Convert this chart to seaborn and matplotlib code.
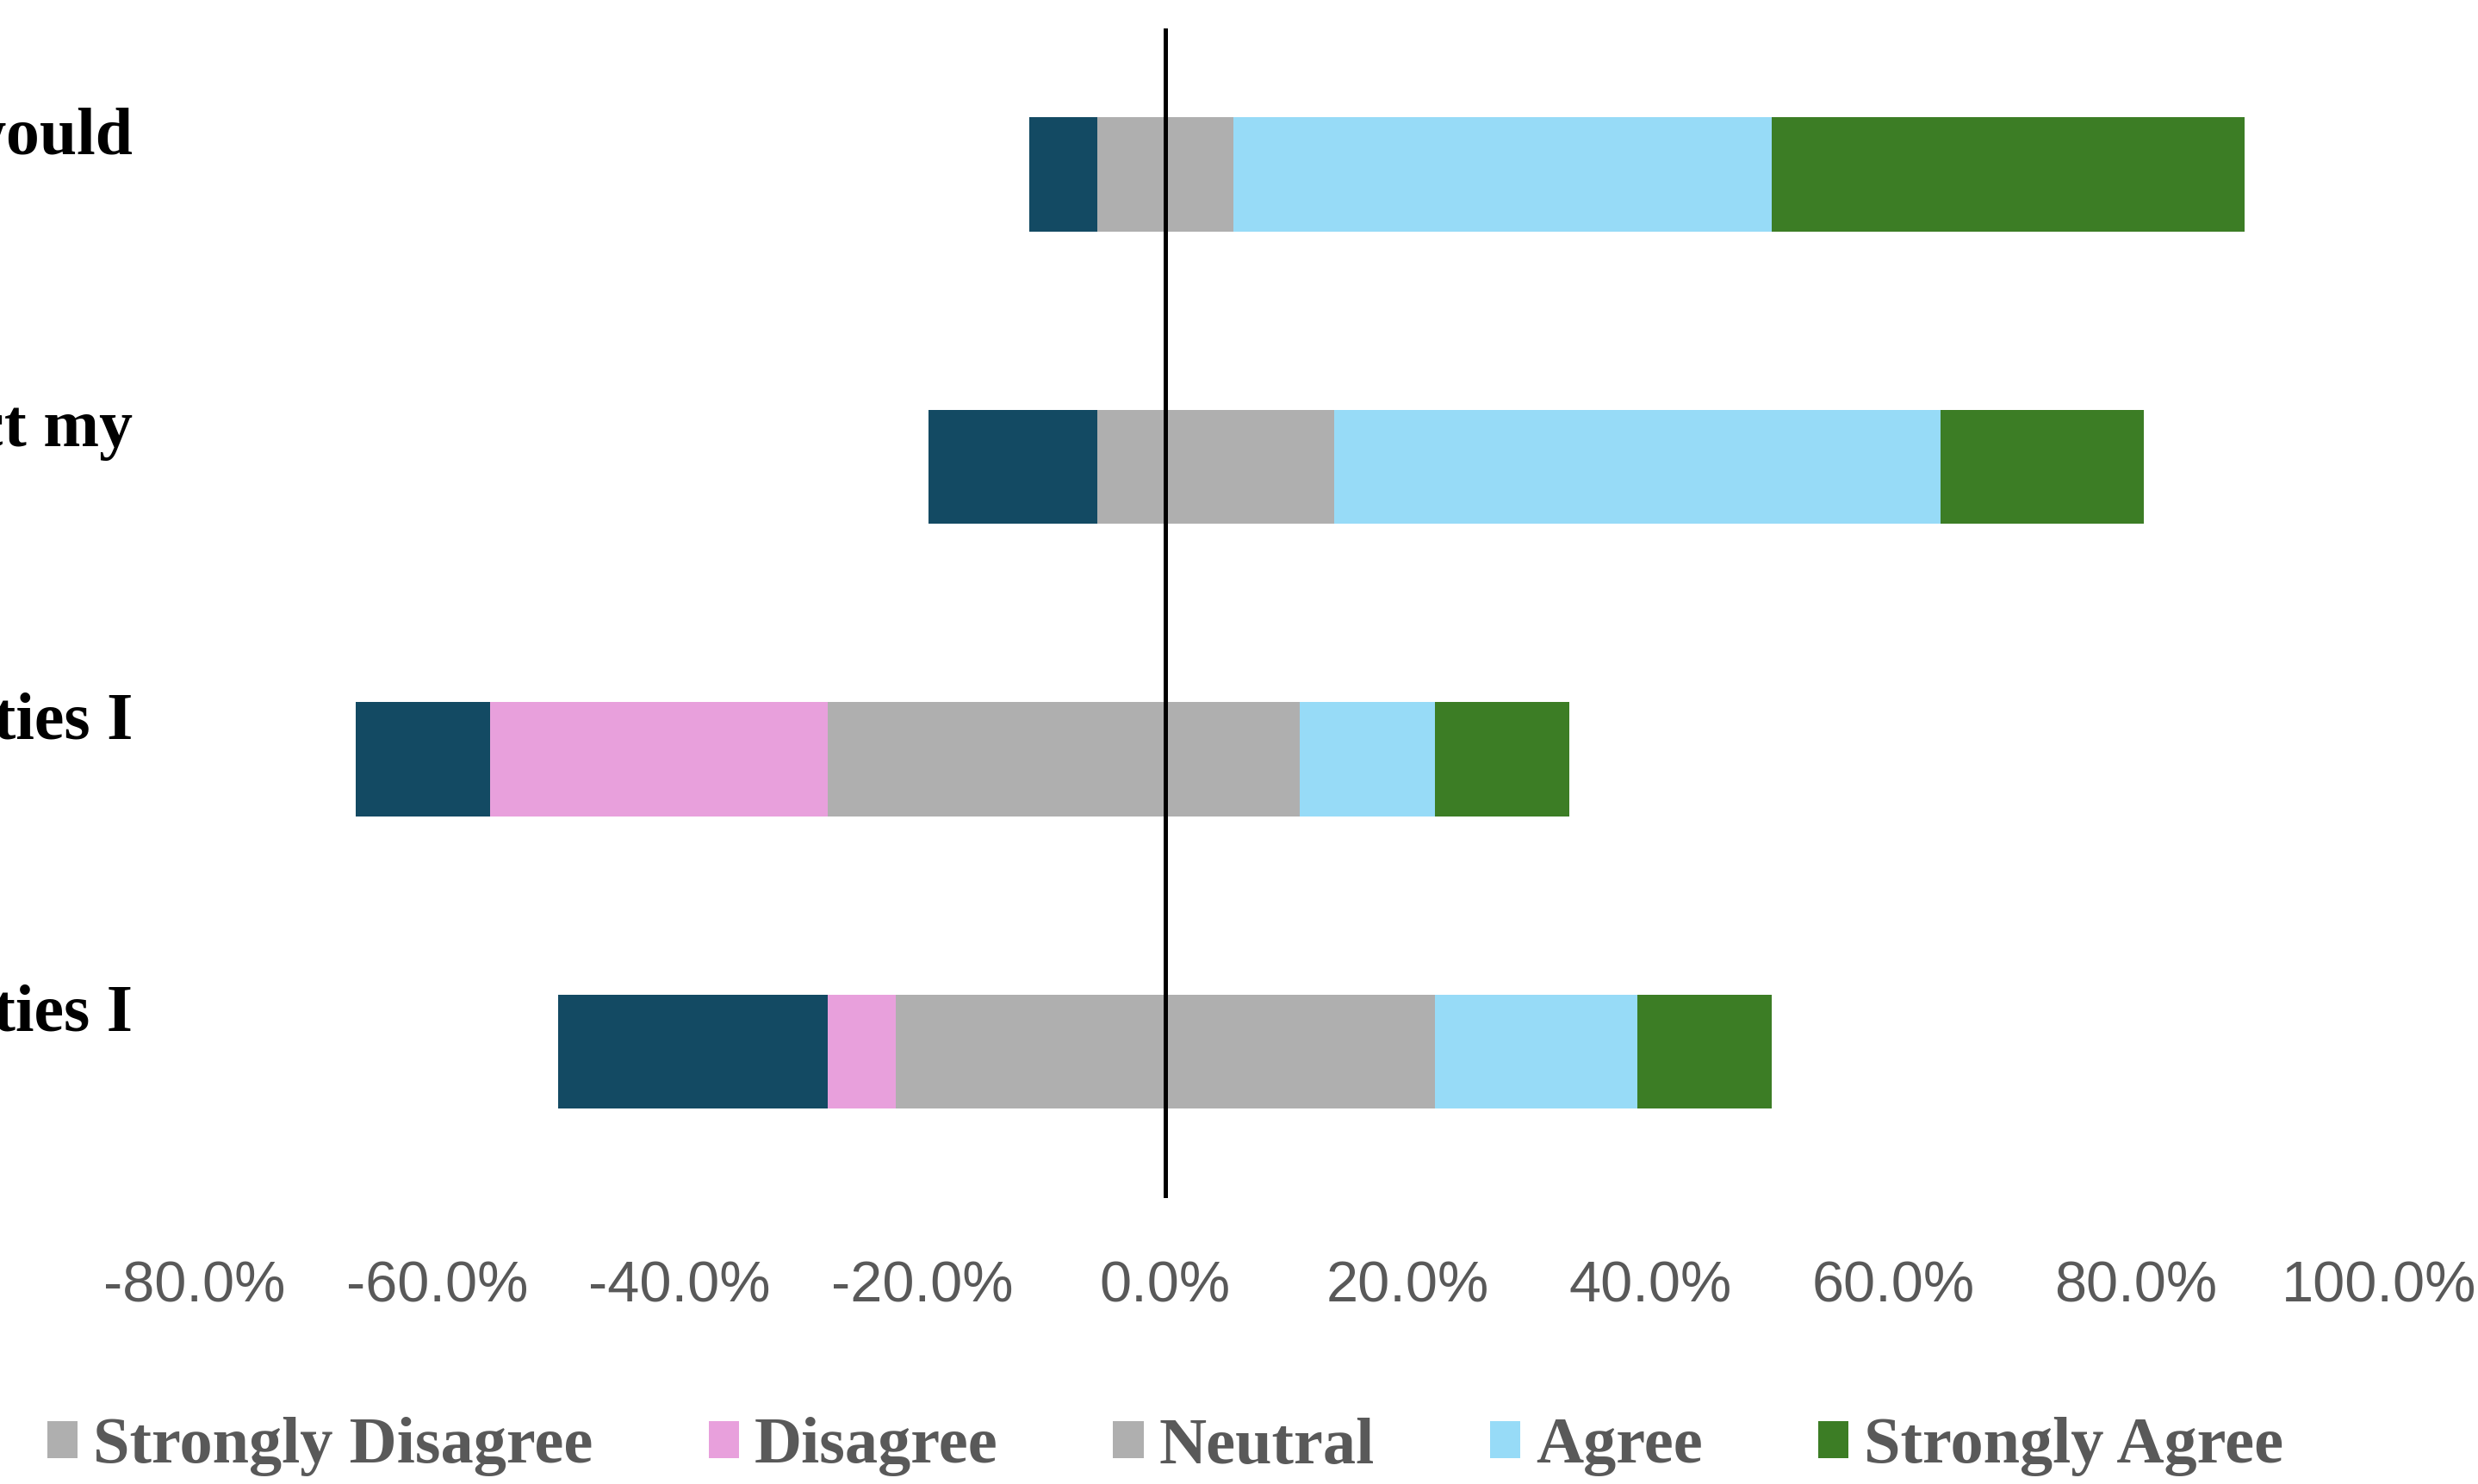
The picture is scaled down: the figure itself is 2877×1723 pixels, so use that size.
import numpy as np
import pandas as pd
import seaborn as sns
import matplotlib
matplotlib.use("Agg")
import matplotlib.pyplot as plt
from matplotlib import font_manager, transforms
from matplotlib.patches import Patch

# Survey statements (right-hand ends of the labels)
statements = ["I would", "affect my", "activities I", "opportunities I"]

# Share of responses per statement (%); neutral split into its left and right parts
strongly_disagree = [5.6, 13.9, 11.1, 22.2]
disagree = [0.0, 0.0, 27.8, 5.6]
neutral_left = [5.6, 5.6, 27.8, 22.2]
neutral_right = [5.6, 13.9, 11.1, 22.2]
agree = [44.4, 50.0, 11.1, 16.7]
strongly_agree = [38.9, 16.7, 11.1, 11.1]

legend_labels = ["Strongly Disagree", "Disagree", "Neutral", "Agree", "Strongly Agree"]
x_ticks = [-80, -60, -40, -20, 0, 20, 40, 60, 80, 100]

c_sd = "#134a63"
c_d = "#e8a0dc"
c_n = "#afafaf"
c_a = "#97dbf7"
c_sa = "#3c7d25"
legend_colors = ["#afafaf", c_d, c_n, c_a, c_sa]

sns.set_theme(style="white")
plt.rcParams["font.family"] = ["Liberation Serif", "DejaVu Serif"]

available = {f.name for f in font_manager.fontManager.ttflist}
if "Liberation Sans Narrow" in available:
    tick_family, tick_size = "Liberation Sans Narrow", 56
else:
    tick_family, tick_size = "Liberation Sans", 48

df = pd.DataFrame({
    "statement": statements,
    "sd": strongly_disagree, "d": disagree, "nl": neutral_left,
    "nr": neutral_right, "a": agree, "sa": strongly_agree,
})
# cumulative extents, drawn longest first so shorter bars sit on top
df["left_all"] = -(df["nl"] + df["d"] + df["sd"])
df["left_d"] = -(df["nl"] + df["d"])
df["left_n"] = -df["nl"]
df["right_all"] = df["nr"] + df["a"] + df["sa"]
df["right_a"] = df["nr"] + df["a"]
df["right_n"] = df["nr"]

fig = plt.figure(figsize=(28.77, 17.23), dpi=100)
ax = fig.add_axes([0.0784, 0.1927, 0.8816, 0.7882])

bar_w = 0.39
for col, color in [("left_all", c_sd), ("left_d", c_d), ("left_n", c_n),
                   ("right_all", c_sa), ("right_a", c_a), ("right_n", c_n)]:
    sns.barplot(data=df, x=col, y="statement", order=statements, orient="h",
                color=color, saturation=1, width=bar_w, linewidth=0,
                errorbar=None, ax=ax)

ax.axvline(0, color="black", linewidth=3.6, zorder=5)

ax.set_xlim(-80, 100)
ax.set_ylim(3.5, -0.5)
ax.set_xticks(x_ticks)
ax.set_xticklabels([f"{v:.1f}%" for v in x_ticks], family=tick_family,
                   fontsize=tick_size, color="#595959")
ax.tick_params(axis="x", length=0, pad=52)
ax.set_yticks([])
ax.set_xlabel("")
ax.set_ylabel("")
for s in ax.spines.values():
    s.set_visible(False)

# statement labels, right-aligned near the left edge of the figure
trans = transforms.blended_transform_factory(fig.transFigure, ax.transData)
for i, label in enumerate(statements):
    ax.text(0.0535, i - 0.07, label, transform=trans, ha="right", va="baseline",
            fontsize=56, fontweight="bold", color="black",
            family=["Liberation Serif", "DejaVu Serif"], clip_on=False)

handles = [Patch(facecolor=c, edgecolor="none") for c in legend_colors]
fig.legend(handles, legend_labels, loc="center left",
           bbox_to_anchor=(55 / 2877, 43 / 1723), ncol=5, frameon=False,
           prop={"family": "Liberation Serif", "weight": "bold", "size": 55},
           labelcolor="#595959", handlelength=0.46, handleheight=0.5,
           handletextpad=0.24, columnspacing=1.75, borderpad=0, borderaxespad=0)

fig.savefig("out.png", dpi=100, facecolor="white")
